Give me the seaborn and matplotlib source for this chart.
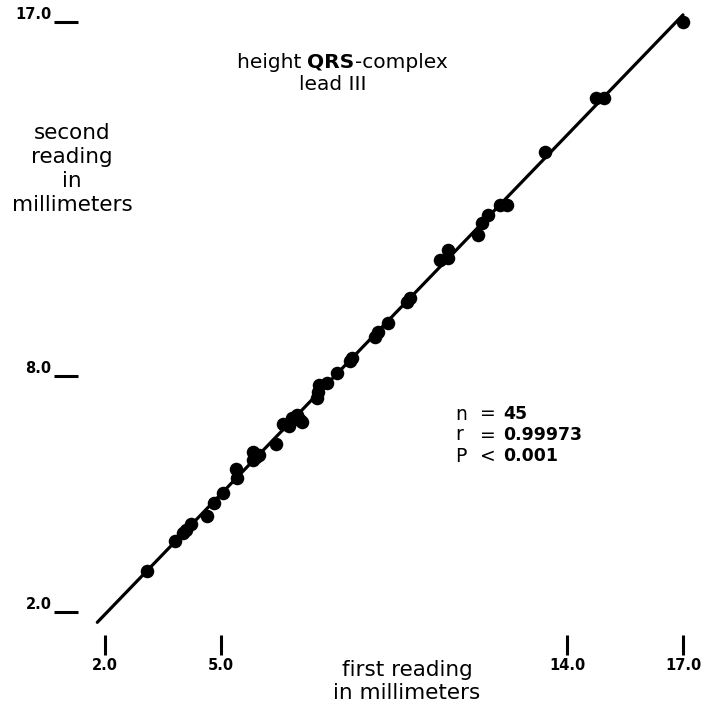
import numpy as np
import pandas as pd
import matplotlib
matplotlib.use("Agg")
import matplotlib.pyplot as plt
import seaborn as sns

# ---------------- data ----------------
first_reading = [3.09, 3.82, 4.03, 4.10, 4.23, 4.65, 4.83, 5.06, 5.40, 5.43,
                 5.84, 5.84, 5.92, 6.00, 6.44, 6.62, 6.78, 6.86, 6.99, 7.06,
                 7.12, 7.51, 7.53, 7.56, 7.77, 8.03, 8.36, 8.42, 9.01, 9.09,
                 9.35, 9.84, 9.92, 10.70, 10.91, 10.91, 11.69, 11.79, 11.95, 12.26,
                 12.44, 13.43, 14.73, 14.94, 17.01]
second_reading = [3.04, 3.81, 4.01, 4.09, 4.24, 4.44, 4.77, 5.03, 5.64, 5.41,
                  6.07, 5.87, 5.94, 6.00, 6.27, 6.78, 6.73, 6.94, 7.01, 6.89,
                  6.83, 7.45, 7.60, 7.78, 7.83, 8.08, 8.39, 8.46, 9.00, 9.12,
                  9.35, 9.89, 9.99, 10.96, 11.21, 11.01, 11.59, 11.90, 12.10, 12.36,
                  12.36, 13.70, 15.08, 15.08, 17.01]
x_ticks = [2.0, 5.0, 14.0, 17.0]
y_ticks = [2.0, 8.0, 17.0]
line_range = [1.8, 17.0]
stats_symbols = ["n", "r", "P"]
stats_ops = ["=", "=", "<"]
stats_values = ["45", "0.99973", "0.001"]
y_label_lines = ["second", "reading", "in", "millimeters"]
x_label_lines = ["first reading", "in millimeters"]

df = pd.DataFrame({"first": first_reading, "second": second_reading})

# ---------------- layout ----------------
W, H = 703, 702
sns.set_style("white")
plt.rcParams["font.family"] = ["DejaVu Sans"]
plt.rcParams["text.color"] = "black"
plt.rcParams["xtick.color"] = "black"
plt.rcParams["ytick.color"] = "black"
plt.rcParams["xtick.labelcolor"] = "black"
plt.rcParams["ytick.labelcolor"] = "black"

fig = plt.figure(figsize=(W / 100, H / 100), dpi=100)
# axes placement (pixels)
L, R, T, B = 78, 703, 0, 655
ax = fig.add_axes([L / W, 1 - B / H, (R - L) / W, (B - T) / H])

# pixel anchors for data scale
x2px, x17px = 105, 683
y2px, y17px = 612, 22
sx = (x17px - x2px) / 15.0
sy = (y2px - y17px) / 15.0
ax.set_xlim(2 - (x2px - L) / sx, 17 + (R - x17px) / sx)
ax.set_ylim(2 - (B - y2px) / sy, 17 + (y17px - T) / sy)

# regression line
coef = np.polyfit(df["first"], df["second"], 1)
line_x = np.array(line_range)
line_df = pd.DataFrame({"x": line_x, "y": np.polyval(coef, line_x)})
sns.lineplot(data=line_df, x="x", y="y", ax=ax, color="black", linewidth=2.3, zorder=2)

# points
sns.scatterplot(data=df, x="first", y="second", ax=ax, color="black", s=95,
                edgecolor="black", linewidth=0, zorder=3)

for sp in ax.spines.values():
    sp.set_visible(False)
ax.set_xlabel("")
ax.set_ylabel("")

ax.set_xticks(x_ticks)
ax.set_xticklabels([f"{v:.1f}" for v in x_ticks])
ax.set_yticks(y_ticks)
ax.set_yticklabels([f"{v:.1f}" for v in y_ticks])
ax.tick_params(axis="x", direction="in", length=14.5, width=2.2, pad=2,
               labelsize=10.5, bottom=True, color="black", labelcolor="black")
ax.tick_params(axis="y", direction="out", length=17, width=2.2, pad=2,
               labelsize=10.5, left=True, color="black", labelcolor="black")
for lab in ax.get_xticklabels() + ax.get_yticklabels():
    lab.set_fontweight("bold")
for lab in ax.get_yticklabels():
    lab.set_verticalalignment("bottom")


def fx(px):
    return px / W


def fy(py):
    return 1 - py / H


# title with mixed weights
fig.canvas.draw()
renderer = fig.canvas.get_renderer()


def place_pieces(pieces, cx_px, base_px, size):
    texts = [fig.text(0, fy(base_px), s, fontsize=size, fontweight=w,
                      va="baseline", ha="left", color="black") for s, w in pieces]
    widths = [t.get_window_extent(renderer).width for t in texts]
    x = cx_px - sum(widths) / 2
    for t, w in zip(texts, widths):
        t.set_x(fx(x))
        x += w


place_pieces([("height ", "normal"), ("QRS", "bold"), ("-complex", "normal")],
             342, 68, 14.5)
fig.text(fx(333), fy(90), "lead III", fontsize=14.5, ha="center", va="baseline")

# y label block
for i, line in enumerate(y_label_lines):
    fig.text(fx(72), fy(133 + i * 24), line, fontsize=15.5, ha="center", va="center")

# x label block
for i, line in enumerate(x_label_lines):
    fig.text(fx(407), fy(670 + i * 23), line, fontsize=15.5, ha="center", va="center")

# statistics block
for i in range(3):
    yy = fy(414 + i * 21)
    fig.text(fx(455), yy, stats_symbols[i], fontsize=13.5, ha="left", va="center")
    fig.text(fx(480), yy, stats_ops[i], fontsize=13.5, ha="left", va="center")
    fig.text(fx(503), yy, stats_values[i], fontsize=12.5, fontweight="bold",
             ha="left", va="center")

fig.savefig("out.png", dpi=100, facecolor="white")
